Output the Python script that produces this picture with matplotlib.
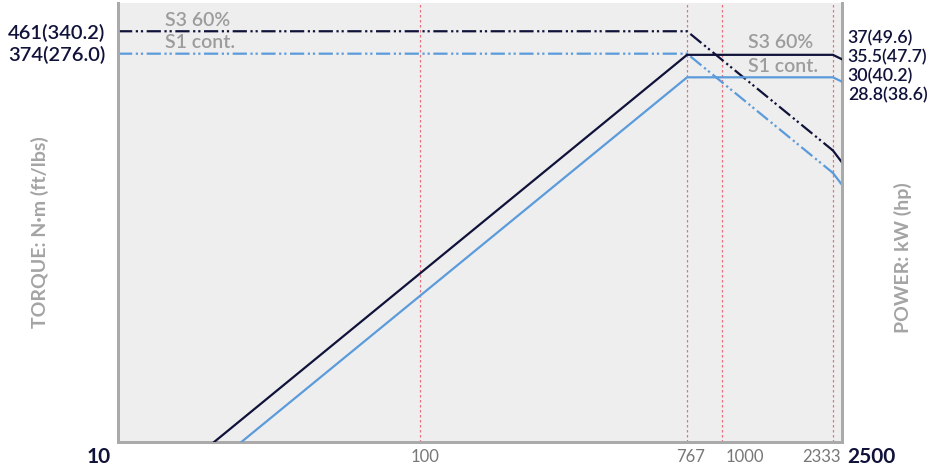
import matplotlib
matplotlib.use('Agg')
import matplotlib.pyplot as plt

# --- data ---
speed = [10, 767, 2333, 2500]                 # rpm
torque_s3 = [461, 461, 151.6, 135.6]          # N.m
torque_s1 = [374, 374, 123.0, 110.0]
power_s3 = [0.48, 37, 37, 35.5]               # kW
power_s1 = [0.39, 30, 30, 28.8]

torque_ticks = [461, 374]
torque_tick_labels = ['461(340.2)', '374(276.0)']
power_labels = ['37(49.6)', '35.5(47.7)', '30(40.2)', '28.8(38.6)']
speed_marks = [100, 767, 1000, 2333]
speed_mark_labels = ['100', '767', '1000', '2333']
speed_ends = [10, 2500]

NAVY = '#10123a'
BLUE = '#5b9bdb'
GREY_TXT = '#9c9c9c'
RED = '#e8707e'
DDOT = (0, (6.4, 1.6, 1.0, 1.3, 1.0, 1.6))

plt.rcParams['font.family'] = ['Lato', 'DejaVu Sans']

fig = plt.figure(figsize=(9.49, 4.70), dpi=100)
ax = fig.add_axes([118 / 949, 28 / 470, 724 / 949, 439 / 470])
ax.set_facecolor('#eeeeee')
ax2 = ax.twinx()

ax.set_xscale('log')
ax.set_yscale('log')
ax2.set_yscale('log')
ax.set_xlim(10, 2500)
ax.set_ylim(10, 600)
ax2.set_ylim(1, 60)

for x in speed_marks:
    ax.axvline(x, color=RED, lw=0.9, linestyle=(0, (2, 2)), zorder=1)

# torque (dash-dot-dot until the last corner, then solid)
ax.plot(speed[:3], torque_s3[:3], color=NAVY, lw=1.6, linestyle=DDOT, zorder=3)
ax.plot(speed[:3], torque_s1[:3], color=BLUE, lw=1.6, linestyle=DDOT, zorder=3)
ax.plot(speed[2:], torque_s3[2:], color=NAVY, lw=1.6, zorder=3)
ax.plot(speed[2:], torque_s1[2:], color=BLUE, lw=1.6, zorder=3)

# power
ax2.plot(speed, power_s3, color=NAVY, lw=1.6, zorder=3)
ax2.plot(speed, power_s1, color=BLUE, lw=1.6, zorder=3)

for a in (ax, ax2):
    a.spines['top'].set_visible(False)
    for s in ('left', 'right', 'bottom'):
        a.spines[s].set_color('#aaaaaa')
        a.spines[s].set_linewidth(2)
    a.tick_params(length=0)
    a.minorticks_off()

ax.set_yticks(torque_ticks, torque_tick_labels, fontsize=14.5, color=NAVY,
              fontweight='semibold')
ax.tick_params(axis='y', pad=9)
ax2.set_yticks([])
ax.set_xticks([])

# right side power labels stacked
for i, lab in enumerate(power_labels):
    y = 1 - (38 + 19 * i - 3) / 439
    ax.text(1.008, y, lab, transform=ax.transAxes, fontsize=12.8,
            color=NAVY, ha='left', va='center', fontweight='semibold')

# x labels
offs = {100: 5, 767: 3, 1000: 23, 2333: -11}
for x, lab in zip(speed_marks, speed_mark_labels):
    ax.annotate(lab, (x, 0), xycoords=('data', 'axes fraction'),
                xytext=(offs[x] * 0.72, -11), textcoords='offset points',
                ha='center', va='center', fontsize=12, color='#777777',
                family=['Liberation Sans Narrow', 'Lato'])
ax.annotate(str(speed_ends[0]), (speed_ends[0], 0),
            xycoords=('data', 'axes fraction'), xytext=(-5, -10.5),
            textcoords='offset points', ha='right', va='center',
            fontsize=15, color=NAVY, fontweight='bold')
ax.annotate(str(speed_ends[1]), (speed_ends[1], 0),
            xycoords=('data', 'axes fraction'), xytext=(4, -10.5),
            textcoords='offset points', ha='left', va='center',
            fontsize=15, color=NAVY, fontweight='bold')

# curve names
name_kw = dict(transform=fig.transFigure, fontsize=14, color=GREY_TXT,
               va='center', fontweight='semibold')
ax.text(165 / 949, 1 - 21 / 470, 'S3 60%', **name_kw)
ax.text(165 / 949, 1 - 43 / 470, 'S1 cont.', **name_kw)
ax.text(748 / 949, 1 - 43 / 470, 'S3 60%', **name_kw)
ax.text(748 / 949, 1 - 67 / 470, 'S1 cont.', **name_kw)

fig.text(40 / 949, 1 - 232 / 470, 'TORQUE: N·m (ft/lbs)', rotation=90,
         ha='center', va='center', fontsize=14, color='#a4a4a4',
         fontweight='bold')
fig.text(903 / 949, 1 - 258 / 470, 'POWER: kW (hp)', rotation=90,
         ha='center', va='center', fontsize=14, color='#a4a4a4',
         fontweight='bold')

fig.savefig('out.png', dpi=100, facecolor='white')
